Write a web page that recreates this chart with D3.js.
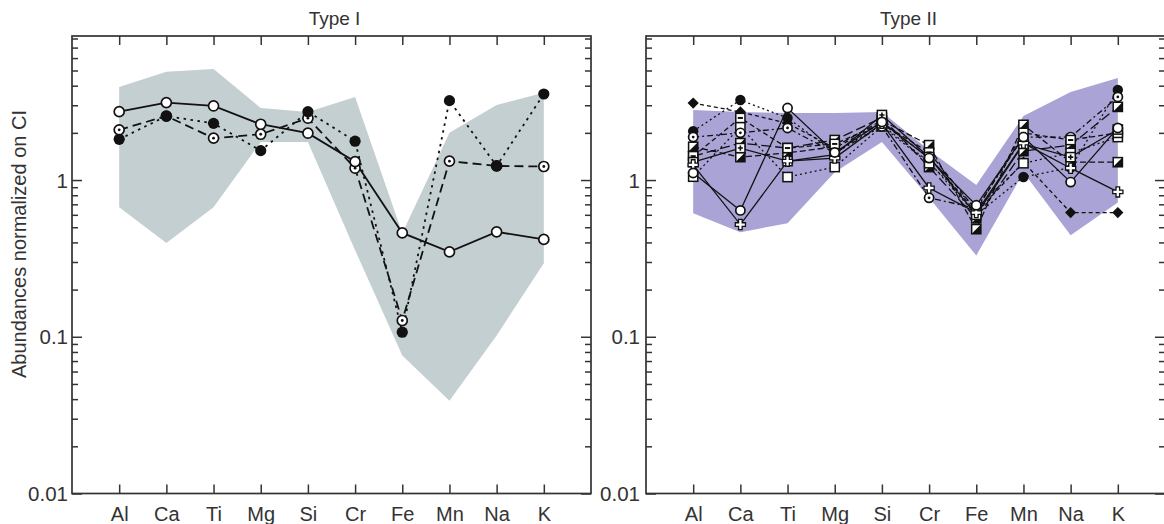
<!DOCTYPE html>
<html><head><meta charset="utf-8">
<script src="https://cdn.jsdelivr.net/npm/d3@7"></script>
<style>
body{margin:0;background:#fff;}
svg text{font-family:"Liberation Sans",Arial,Helvetica,sans-serif;fill:#333;}
</style></head>
<body><svg id="c" width="1164" height="524"></svg>
<script>
// ---------- data ----------
const categories = ["Al","Ca","Ti","Mg","Si","Cr","Fe","Mn","Na","K"];
const yTickValues = [0.01, 0.1, 1];
const yTickLabels = ["0.01", "0.1", "1"];
const panelTitles = ["Type I", "Type II"];
const yAxisTitle = "Abundances normalized on CI";

// Type I envelope
const typeIUpper = [3.93, 4.9, 5.12, 2.88, 2.72, 3.39, 0.458, 2.0, 3.01, 3.6];
const typeILower = [0.67, 0.396, 0.67, 1.75, 1.75, 0.357, 0.076, 0.039, 0.102, 0.295];
// Type I samples
const typeIOpenSolid   = [2.73, 3.12, 2.97, 2.27, 1.99, 1.31, 0.46, 0.348, 0.467, 0.418];
const typeIDotDashed   = [2.09, 2.56, 1.85, 1.96, 2.48, 1.19, 0.127, 1.32, 1.23, 1.22];
const typeIFilledDotted= [1.82, 2.56, 2.3, 1.54, 2.73, 1.77, 0.107, 3.21, 1.23, 3.54];

// Type II envelope
const typeIIUpper = [2.8, 2.72, 2.68, 2.68, 2.72, 1.55, 0.93, 2.56, 3.65, 4.48];
const typeIILower = [0.615, 0.465, 0.53, 1.12, 1.75, 0.77, 0.33, 1.12, 0.445, 0.72];
// Type II samples
const typeIIA = [3.1, 2.72, 2.3, 1.6, 2.3, 1.4, 0.62, 1.3, 0.62, 0.62];
const typeIIB = [2.05, 3.24, 2.49, 1.5, 2.25, 1.3, 0.6, 1.045, 1.2, 3.76];
const typeIIC = [1.11, 0.64, 2.88, 1.5, 2.35, 1.38, 0.69, 1.88, 0.97, 2.15];
const typeIID = [1.25, 0.52, 1.32, 1.38, 2.3, 0.89, 0.62, 1.72, 1.19, 0.84];
const typeIIE = [1.63, 1.4, 1.49, 1.63, 2.4, 1.67, 0.486, 2.25, 1.3, 1.3];
const typeIIF = [1.42, 1.72, 1.6, 1.8, 2.5, 1.21, 0.57, 1.53, 1.67, 2.93];
const typeIIG = [1.05, 2.18, 1.045, 1.21, 2.2, 1.28, 0.66, 1.28, 1.49, 1.88];
const typeIIH = [1.88, 2.0, 2.15, 1.49, 2.2, 0.77, 0.66, 1.88, 1.88, 3.39];
const typeIII = [1.42, 2.49, 1.6, 1.7, 2.3, 1.5, 0.64, 2.0, 1.8, 2.0];
const typeIIJ = [1.3, 1.6, 1.32, 1.45, 2.6, 1.4, 0.6, 1.7, 1.4, 2.1];

// ---------- styles ----------
const panels = [
  {title: panelTitles[0], x0: 72, x1: 591, fill: "#c4cfd1",
   upper: typeIUpper, lower: typeILower, lw: 1.8, r: 5,
   series: [
     {v: typeIDotDashed, m: "circleDot", dash: "9,5"},
     {v: typeIFilledDotted, m: "circleFilled", dash: "2.5,4.5"},
     {v: typeIOpenSolid, m: "circleOpen", dash: null}
   ]},
  {title: panelTitles[1], x0: 646, x1: 1165, fill: "#a9a3d6",
   upper: typeIIUpper, lower: typeIILower, lw: 1.3, r: 4.6,
   series: [
     {v: typeIIA, m: "diamond", dash: "4,3"},
     {v: typeIIB, m: "circleFilled", dash: "2,3"},
     {v: typeIIE, m: "squareDiag", dash: "6,3"},
     {v: typeIIF, m: "squareDiag", dash: "10,4"},
     {v: typeIIG, m: "square", dash: "2,3"},
     {v: typeIIH, m: "circleDot", dash: "6,3,2,3"},
     {v: typeIII, m: "squareMinus", dash: "5,3"},
     {v: typeIIJ, m: "squarePlus", dash: null},
     {v: typeIID, m: "plusCross", dash: null},
     {v: typeIIC, m: "circleOpen", dash: null}
   ]}
];

const svg = d3.select("#c");
const yTop = 36, yBot = 493.5;
const y = d3.scaleLog().domain([0.01, 8.3]).range([yBot, yTop]);
const minorTicks = [];
[0.01, 0.1, 1].forEach(b => { for (let k = 2; k <= 9; k++) { const v = b * k; if (v <= 8.3) minorTicks.push(v); } });

// y-axis title
svg.append("text").attr("transform", "translate(26,244) rotate(-90)")
  .attr("text-anchor", "middle").attr("font-size", 20).text(yAxisTitle);

function marker(g, type, cx, cy, r) {
  const ink = "#111";
  if (type === "circleOpen") {
    g.append("circle").attr("cx", cx).attr("cy", cy).attr("r", r).attr("fill", "#fff").attr("stroke", ink).attr("stroke-width", 1.7);
  } else if (type === "circleFilled") {
    g.append("circle").attr("cx", cx).attr("cy", cy).attr("r", r + 0.6).attr("fill", ink);
  } else if (type === "circleDot") {
    g.append("circle").attr("cx", cx).attr("cy", cy).attr("r", r).attr("fill", "#fff").attr("stroke", ink).attr("stroke-width", 1.7);
    g.append("circle").attr("cx", cx).attr("cy", cy).attr("r", 1.4).attr("fill", ink);
  } else if (type === "diamond") {
    const s = r + 1;
    g.append("path").attr("d", `M${cx},${cy - s}L${cx + s},${cy}L${cx},${cy + s}L${cx - s},${cy}Z`).attr("fill", ink);
  } else if (type.startsWith("square")) {
    const s = r;
    g.append("rect").attr("x", cx - s).attr("y", cy - s).attr("width", 2 * s).attr("height", 2 * s)
      .attr("fill", "#fff").attr("stroke", ink).attr("stroke-width", 1.5);
    if (type === "squareDiag") {
      g.append("path").attr("d", `M${cx + s},${cy - s}L${cx + s},${cy + s}L${cx - s},${cy + s}Z`).attr("fill", ink);
    } else if (type === "squareMinus") {
      g.append("path").attr("d", `M${cx - s + 2},${cy}L${cx + s - 2},${cy}`).attr("stroke", ink).attr("stroke-width", 2);
    } else if (type === "squarePlus") {
      g.append("path").attr("d", `M${cx - s + 2},${cy}L${cx + s - 2},${cy}M${cx},${cy - s + 2}L${cx},${cy + s - 2}`).attr("stroke", ink).attr("stroke-width", 1.6);
    }
  } else if (type === "plusCross") {
    const a = r + 0.5, b = 1.8;
    g.append("path").attr("d", `M${cx - b},${cy - a}H${cx + b}V${cy - b}H${cx + a}V${cy + b}H${cx + b}V${cy + a}H${cx - b}V${cy + b}H${cx - a}V${cy - b}H${cx - b}Z`)
      .attr("fill", "#fff").attr("stroke", ink).attr("stroke-width", 1.3);
  }
}

panels.forEach((p, pi) => {
  const x = d3.scalePoint().domain(categories).range([p.x0, p.x1]).padding(1);
  const g = svg.append("g");

  // envelope
  const area = d3.area().x((d, i) => x(categories[i])).y0(d => y(d[0])).y1(d => y(d[1]));
  const env = p.lower.map((lo, i) => [lo, p.upper[i]]);
  g.append("path").attr("d", area(env)).attr("fill", p.fill).attr("stroke", "none");

  // lines
  const line = d3.line().x((d, i) => x(categories[i])).y(d => y(d));
  p.series.forEach(s => {
    g.append("path").attr("d", line(s.v)).attr("fill", "none").attr("stroke", "#111")
      .attr("stroke-width", p.lw).attr("stroke-dasharray", s.dash);
  });
  // markers
  p.series.forEach(s => {
    s.v.forEach((v, i) => marker(g, s.m, x(categories[i]), y(v), p.r));
  });

  // frame
  g.append("rect").attr("x", p.x0).attr("y", yTop).attr("width", p.x1 - p.x0).attr("height", yBot - yTop)
    .attr("fill", "none").attr("stroke", "#333").attr("stroke-width", 1.7);

  // y axes: left with labels, right without
  const yl = g.append("g").attr("transform", `translate(${p.x0},0)`)
    .call(d3.axisLeft(y).tickValues(yTickValues).tickSize(-10).tickPadding(pi === 0 ? 4 : 6)
      .tickFormat((d, i) => yTickLabels[i]));
  yl.selectAll("text").attr("font-size", 20.5).attr("dy", "0.35em");
  g.append("g").attr("transform", `translate(${p.x0},0)`)
    .call(d3.axisLeft(y).tickValues(minorTicks).tickSize(-6).tickFormat(""));
  g.append("g").attr("transform", `translate(${p.x1},0)`)
    .call(d3.axisRight(y).tickValues(yTickValues).tickSize(-10).tickFormat(""));
  g.append("g").attr("transform", `translate(${p.x1},0)`)
    .call(d3.axisRight(y).tickValues(minorTicks).tickSize(-6).tickFormat(""));

  // x axes
  const xb = g.append("g").attr("transform", `translate(0,${yBot})`)
    .call(d3.axisBottom(x).tickSize(-9).tickPadding(13));
  xb.selectAll("text").attr("font-size", 20);
  g.append("g").attr("transform", `translate(0,${yTop})`)
    .call(d3.axisTop(x).tickSize(-9).tickFormat(""));

  g.selectAll(".domain").remove();
  g.selectAll(".tick line").attr("stroke", "#333").attr("stroke-width", 1.5);
  g.selectAll(".tick text").attr("fill", "#333").attr("font-family", "Liberation Sans, Arial, sans-serif");

  // title
  svg.append("text").attr("x", (p.x0 + p.x1) / 2 + 3).attr("y", 25).attr("text-anchor", "middle")
    .attr("font-size", 19).text(p.title);
});
</script></body></html>
